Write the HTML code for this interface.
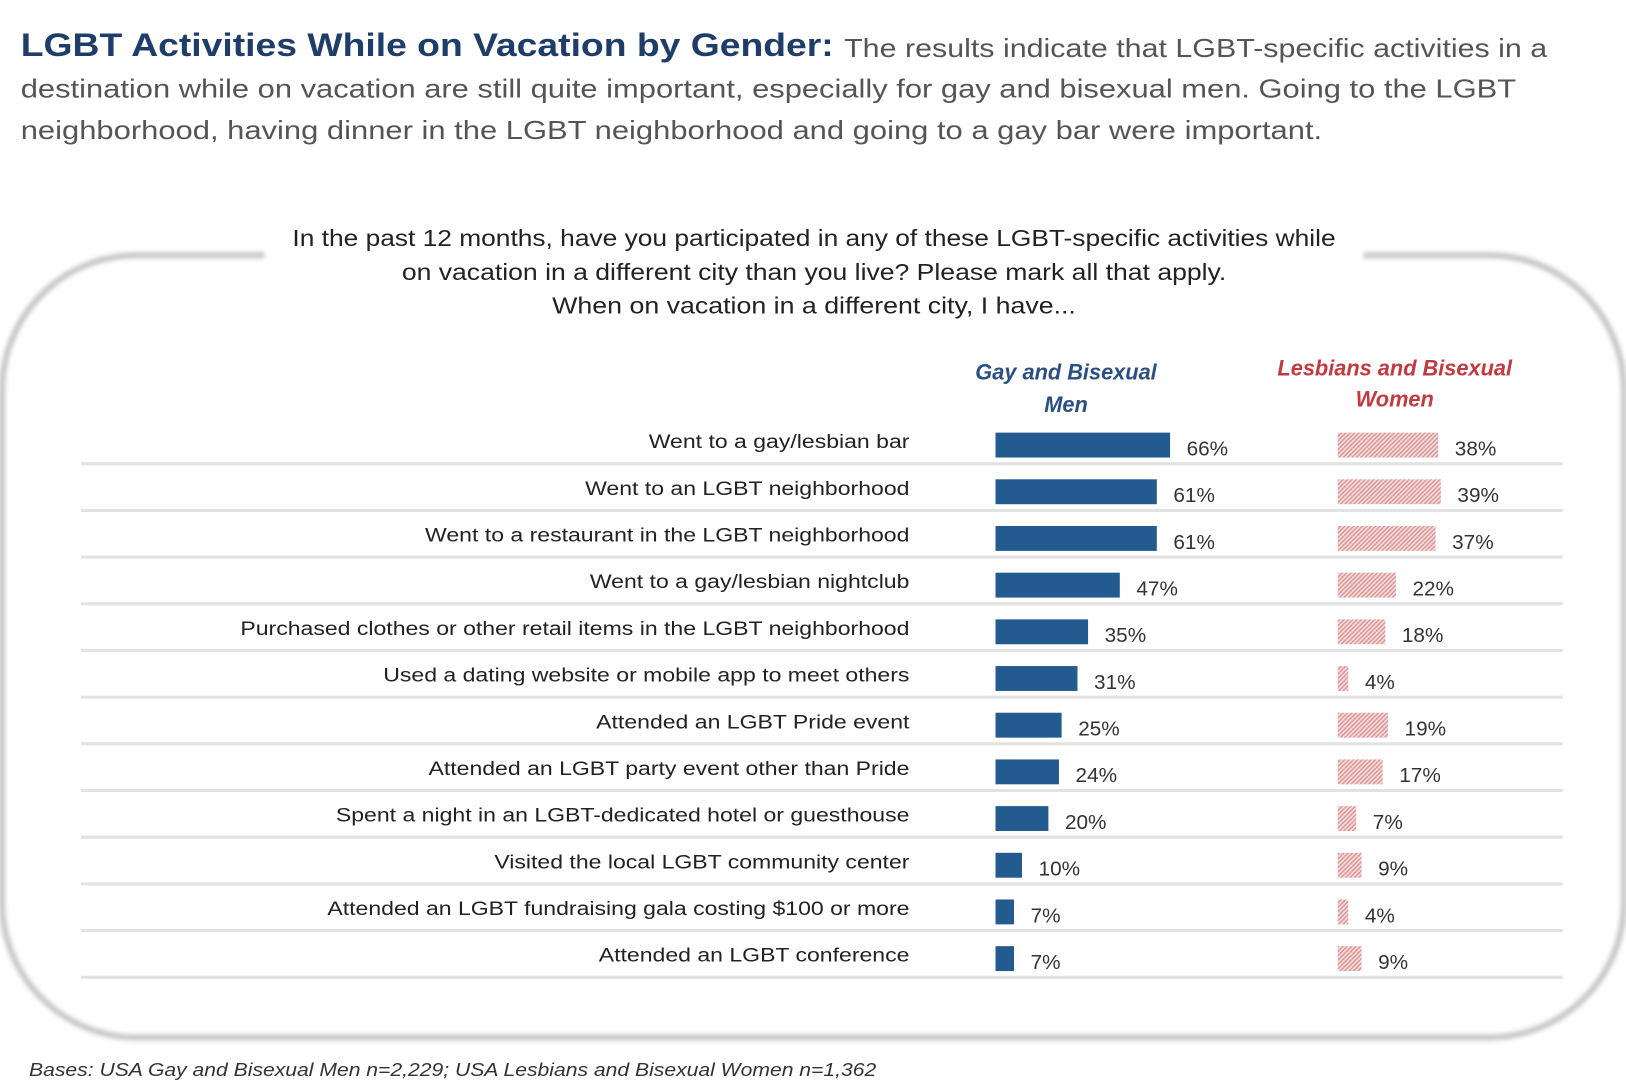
<!DOCTYPE html>
<html><head><meta charset="utf-8"><style>
html,body{margin:0;padding:0;background:#fff;width:1626px;height:1080px;overflow:hidden}
svg{display:block;font-family:"Liberation Sans",sans-serif}
</style></head><body>
<svg id="chart" width="1626" height="1080" viewBox="0 0 1568 1041" preserveAspectRatio="none" xmlns="http://www.w3.org/2000/svg">
<defs>
<pattern id="hatch" width="3" height="3" patternUnits="userSpaceOnUse" patternTransform="rotate(45)">
<rect width="3" height="3" fill="#f6dede"/><rect width="1.4" height="3" fill="#dc9494"/>
</pattern>
<filter id="blur"><feGaussianBlur stdDeviation="2"/></filter>
</defs>
<text x="20" y="54" font-size="31" font-weight="bold" fill="#1f3d6b" textLength="784" lengthAdjust="spacingAndGlyphs">LGBT Activities While on Vacation by Gender:</text>
<text x="814" y="55" font-size="25" fill="#555" textLength="678" lengthAdjust="spacingAndGlyphs">The results indicate that LGBT-specific activities in a</text>
<text x="20" y="94" font-size="25" fill="#555" textLength="1442" lengthAdjust="spacingAndGlyphs">destination while on vacation are still quite important, especially for gay and bisexual men. Going to the LGBT</text>
<text x="20" y="134" font-size="25" fill="#555" textLength="1255" lengthAdjust="spacingAndGlyphs">neighborhood, having dinner in the LGBT neighborhood and going to a gay bar were important.</text>
<path d="M255,246 L130,246 A130,130 0 0 0 2,376 L2,870 A130,130 0 0 0 132,1000 L1436,1000 A130,130 0 0 0 1566,870 L1566,376 A130,130 0 0 0 1436,246 L1315,246" fill="none" stroke="#c8c8c8" stroke-width="6" filter="url(#blur)"/>
<g font-size="22" fill="#222" text-anchor="middle">
<text x="785" y="237" textLength="1006" lengthAdjust="spacingAndGlyphs">In the past 12 months, have you participated in any of these LGBT-specific activities while</text>
<text x="785" y="270" textLength="795" lengthAdjust="spacingAndGlyphs">on vacation in a different city than you live? Please mark all that apply.</text>
<text x="785" y="302" textLength="505" lengthAdjust="spacingAndGlyphs">When on vacation in a different city, I have...</text>
</g>
<g font-size="21" font-weight="bold" font-style="italic" fill="#2b4f85" text-anchor="middle">
<text x="1028" y="366">Gay and Bisexual</text><text x="1028" y="397">Men</text></g>
<g font-size="21" font-weight="bold" font-style="italic" fill="#c4393f" text-anchor="middle">
<text x="1345" y="362">Lesbians and Bisexual</text><text x="1345" y="392">Women</text></g>
<g id="rows"></g>
<text x="28" y="1037" font-size="18" font-style="italic" fill="#333" textLength="817" lengthAdjust="spacingAndGlyphs">Bases: USA Gay and Bisexual Men n=2,229; USA Lesbians and Bisexual Women n=1,362</text>
</svg>
<script>
const categories = ["Went to a gay/lesbian bar","Went to an LGBT neighborhood","Went to a restaurant in the LGBT neighborhood","Went to a gay/lesbian nightclub","Purchased clothes or other retail items in the LGBT neighborhood","Used a dating website or mobile app to meet others","Attended an LGBT Pride event","Attended an LGBT party event other than Pride","Spent a night in an LGBT-dedicated hotel or guesthouse","Visited the local LGBT community center","Attended an LGBT fundraising gala costing $100 or more","Attended an LGBT conference"];
const menValues = [66,61,61,47,35,31,25,24,20,10,7,7];
const womenValues = [38,39,37,22,18,4,19,17,7,9,4,9];

const NS = "http://www.w3.org/2000/svg";
const g = document.getElementById('rows');
const rowY = i => 425 + i * 45;
const xScale = v => v * 2.55;
const MEN_X = 960, WOMEN_X = 1290;
function mk(tag, attrs, text) {
  const e = document.createElementNS(NS, tag);
  for (const k in attrs) e.setAttribute(k, attrs[k]);
  if (text !== undefined) e.textContent = text;
  g.appendChild(e);
  return e;
}
categories.forEach((c, i) => {
  const y = rowY(i);
  const lab = mk('text', {x: 877, y: y + 7, 'font-size': 19, fill: '#222', 'text-anchor': 'end'}, c);
  
  
  const L = lab.getComputedTextLength();
  if (L > 0) { lab.setAttribute('textLength', (L * 1.17).toFixed(1)); lab.setAttribute('lengthAdjust', 'spacingAndGlyphs'); }
  const line = mk('line', {x1: 78, x2: 1507, y1: y + 22, y2: y + 22, stroke: '#e2e2e2', 'stroke-width': 3});
  
  
  const mw = xScale(menValues[i]);
  const mb = mk('rect', {x: MEN_X, y: y - 8, width: mw, height: 24, fill: '#235a8f'});
  
  
  const mv = mk('text', {x: MEN_X + mw + 16, y: y + 14, 'font-size': 20, fill: '#333'}, menValues[i] + '%');
  
  
  const ww = xScale(womenValues[i]);
  const wb = mk('rect', {x: WOMEN_X, y: y - 8, width: ww, height: 24, fill: 'url(#hatch)'});
  
  
  const wv = mk('text', {x: WOMEN_X + ww + 16, y: y + 14, 'font-size': 20, fill: '#333'}, womenValues[i] + '%');
  
  
});
</script>
</body></html>
